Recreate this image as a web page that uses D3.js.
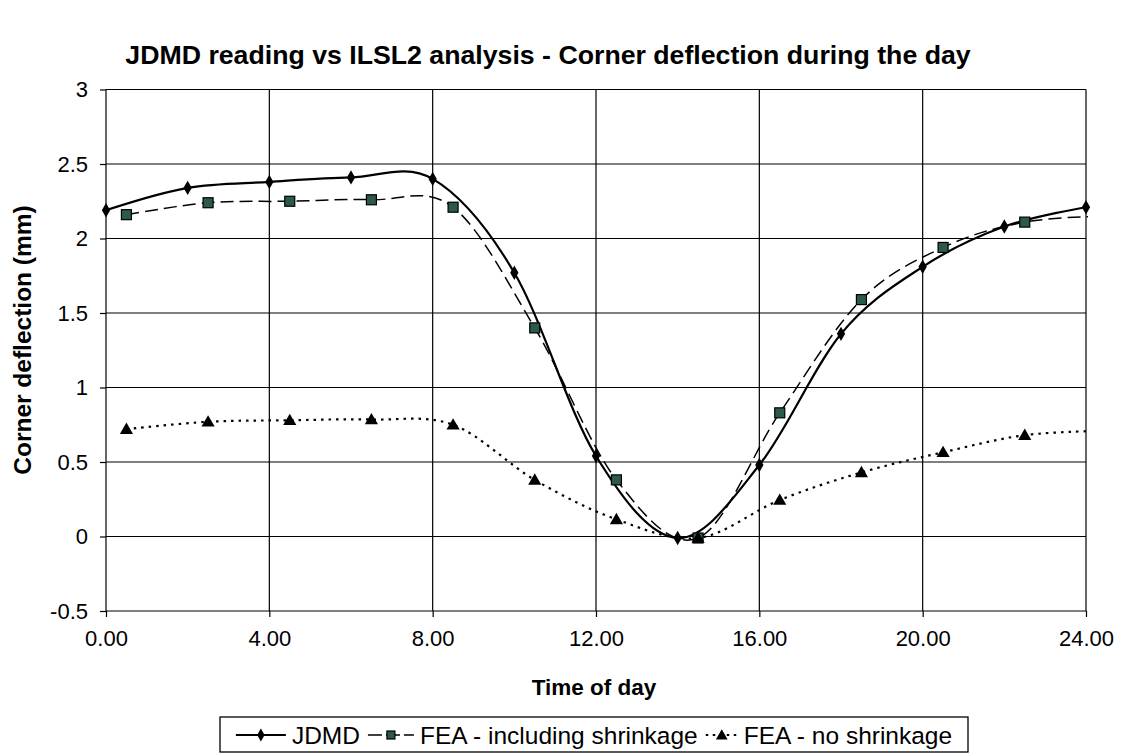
<!DOCTYPE html>
<html><head><meta charset="utf-8">
<script src="https://cdn.jsdelivr.net/npm/d3@7"></script>
<style>body{margin:0;background:#fff}svg{display:block}text{font-family:"Liberation Sans",Arial,sans-serif;fill:#000}</style>
</head><body><svg id="c" width="1123" height="756"></svg>
<script>
const jdmdTime = [0,2,4,6,8,10,12,14,16,18,20,22,24];
const jdmdValues = [2.19,2.34,2.38,2.41,2.40,1.77,0.54,-0.01,0.48,1.36,1.81,2.08,2.21];
const feaTime = [0.5,2.5,4.5,6.5,8.5,10.5,12.5,14.5,16.5,18.5,20.5,22.5,24.5];
const feaShrinkValues = [2.16,2.24,2.25,2.26,2.21,1.40,0.38,-0.01,0.83,1.59,1.94,2.11,2.15];
const feaNoShrinkValues = [0.72,0.77,0.78,0.785,0.75,0.38,0.115,-0.01,0.245,0.43,0.565,0.68,0.71];
const xTicks = [0,4,8,12,16,20,24];
const yTicks = [-0.5,0,0.5,1,1.5,2,2.5,3];
const seriesNames = ["JDMD","FEA - including shrinkage","FEA - no shrinkage"];
const title = "JDMD reading vs ILSL2 analysis - Corner deflection during the day";

const svg = d3.select("#c");
const L=106,R=1086,T=89.5,B=611;
const x = d3.scaleLinear().domain([0,24]).range([L,R]);
const y = d3.scaleLinear().domain([-0.5,3]).range([B,T]);

svg.append("text").attr("x",548).attr("y",64).attr("text-anchor","middle")
  .attr("font-weight","bold").attr("font-size",26.7).text(title);

// grid
const g = svg.append("g");
g.selectAll(".hg").data(yTicks).join("line").attr("x1",L).attr("x2",R)
  .attr("y1",d=>y(d)).attr("y2",d=>y(d)).attr("stroke","#000").attr("stroke-width",1.2);
g.selectAll(".vg").data(xTicks).join("line").attr("y1",T).attr("y2",B)
  .attr("x1",d=>x(d)).attr("x2",d=>x(d)).attr("stroke","#000").attr("stroke-width",1.2);

// axes
const xa = svg.append("g").attr("transform",`translate(0,${B})`)
  .call(d3.axisBottom(x).tickValues(xTicks).tickFormat(d3.format(".2f")).tickSize(6).tickPadding(13));
const ya = svg.append("g").attr("transform",`translate(${L},0)`)
  .call(d3.axisLeft(y).tickValues(yTicks).tickFormat(d=>String(d)).tickSize(6).tickPadding(12));
[xa,ya].forEach(a=>{a.select(".domain").remove();a.selectAll("line").attr("stroke","#000").attr("stroke-width",1.2);
  a.selectAll("text").attr("font-size",22).attr("font-family","Liberation Sans, Arial, sans-serif").attr("fill","#000");});

svg.append("text").attr("x",(L+R)/2-2).attr("y",695).attr("text-anchor","middle")
  .attr("font-weight","bold").attr("font-size",22.5).text("Time of day");
svg.append("text").attr("transform","translate(31,340) rotate(-90)").attr("text-anchor","middle")
  .attr("font-weight","bold").attr("font-size",24.5).text("Corner deflection (mm)");

svg.append("clipPath").attr("id","pc").append("rect").attr("x",L).attr("y",T-5).attr("width",R-L+2).attr("height",B-T+10);

const curve = d3.curveCatmullRom.alpha(0);
const line = d3.line().x(d=>x(d[0])).y(d=>y(d[1])).curve(curve);
const series = [
  {pts:d3.zip(jdmdTime,jdmdValues),dash:null,w:2.2,marker:"diamond"},
  {pts:d3.zip(feaTime,feaShrinkValues),dash:"13,6",w:1.5,marker:"square"},
  {pts:d3.zip(feaTime,feaNoShrinkValues),dash:"2.5,5",w:2.2,marker:"triangle"}
];
const pg = svg.append("g").attr("clip-path","url(#pc)");
series.forEach(s=>{
  pg.append("path").attr("d",line(s.pts)).attr("fill","none").attr("stroke","#000")
    .attr("stroke-width",s.w).attr("stroke-dasharray",s.dash);
});
function marker(sel,type,cx,cy,scale=1){
  if(type==="diamond") sel.append("path").attr("d",d3.symbol(d3.symbolDiamond,60*scale)()).attr("transform",`translate(${cx},${cy})`).attr("fill","#000");
  if(type==="square") sel.append("rect").attr("x",cx-5*scale).attr("y",cy-5*scale).attr("width",10*scale).attr("height",10*scale).attr("fill","#2c5a48").attr("stroke","#000").attr("stroke-width",1.2);
  if(type==="triangle") sel.append("path").attr("d",d3.symbol(d3.symbolTriangle,75*scale)()).attr("transform",`translate(${cx},${cy+1})`).attr("fill","#000");
}
series.forEach(s=>{
  s.pts.filter(p=>p[0]<=24).forEach(p=>marker(svg,s.marker,x(p[0]),y(p[1])));
});

// legend
const lg = svg.append("g");
lg.append("rect").attr("x",220).attr("y",717).attr("width",748).attr("height",35).attr("fill","#fff").attr("stroke","#000").attr("stroke-width",1.3);
const sampleW = [50,46,32];
const lgFont = 24.5;
const widths = seriesNames.map(n=>{const t=lg.append("text").attr("font-size",lgFont).text(n);const w=t.node().getComputedTextLength();t.remove();return w;});
const total = d3.sum(sampleW)+d3.sum(widths)+3*6+2*8;
let cursor = 220 + (748-total)/2;
seriesNames.forEach((n,i)=>{
  const s=series[i];
  const x0=cursor, x1=cursor+sampleW[i];
  lg.append("line").attr("x1",x0).attr("x2",x1).attr("y1",735).attr("y2",735).attr("stroke","#000")
    .attr("stroke-width",s.w).attr("stroke-dasharray",i===1?"14,4":(i===2?"2.5,4.5":null));
  marker(lg,s.marker,(x0+x1)/2,735,0.8);
  lg.append("text").attr("x",x1+6).attr("y",743.5).attr("font-size",lgFont).text(n);
  cursor = x1+6+widths[i]+8;
});
</script></body></html>
